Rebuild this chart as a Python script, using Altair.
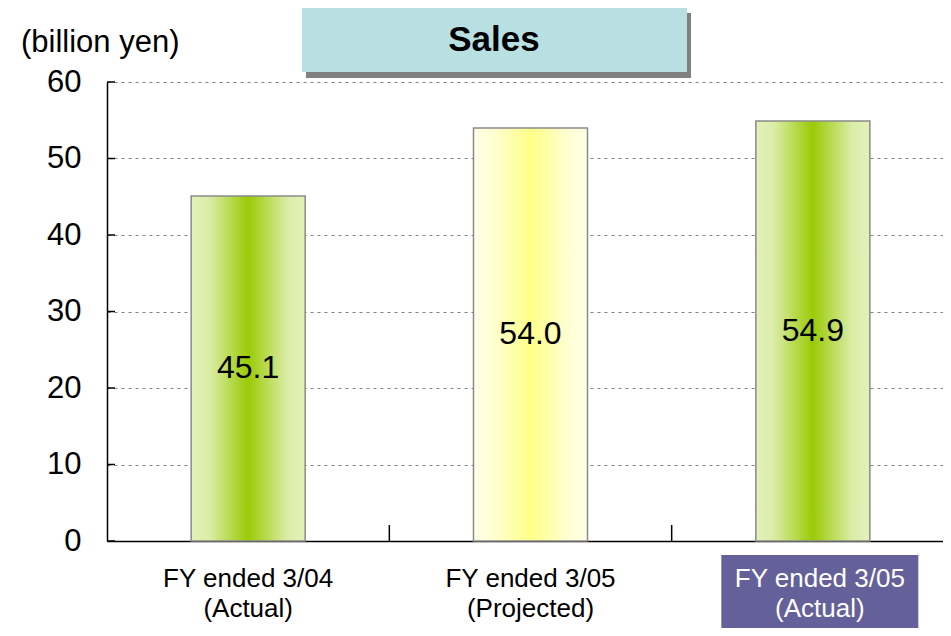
import altair as alt
import pandas as pd

# ---- data ----
categories = ["FY ended 3/04\n(Actual)", "FY ended 3/05\n(Projected)", "FY ended 3/05\n(Actual)"]
sales = [45.1, 54.0, 54.9]
bar_style = ["green", "yellow", "green"]
highlighted = [False, False, True]
y_ticks = [0, 10, 20, 30, 40, 50, 60]
title_text = ["Sales"]
unit_text = ["(billion yen)"]

df = pd.DataFrame({"cat": categories, "sales": sales, "style": bar_style, "hl": highlighted})
df["mid"] = df["sales"] / 2
tick_df = pd.DataFrame({"t": y_ticks})
title_df = pd.DataFrame({"t": title_text})
unit_df = pd.DataFrame({"t": unit_text})

FONT = "Liberation Sans"

xscale = alt.Scale(domain=categories, range=[0, 847], paddingInner=0, paddingOuter=0)
yscale = alt.Scale(domain=[0, 60], nice=False)

xaxis = alt.Axis(labels=False, ticks=False, title=None, domainColor="black",
                 domainWidth=1.5, grid=False)
yaxis = alt.Axis(values=y_ticks, grid=True, gridDash=[3, 4], gridColor="#808080",
                 gridWidth=1.2, ticks=False, tickSize=0, labelFontSize=31, labelFont=FONT,
                 labelColor="black", labelPadding=26, domainColor="black",
                 domainWidth=1.5, title=None)

X = alt.X("cat:N", scale=xscale, axis=xaxis)

green_grad = alt.Gradient(
    gradient="linear", x1=0, x2=1, y1=0, y2=0,
    stops=[
        alt.GradientStop(offset=0, color="#E3F1B8"),
        alt.GradientStop(offset=0.15, color="#DCEDAA"),
        alt.GradientStop(offset=0.5, color="#9ACB05"),
        alt.GradientStop(offset=0.85, color="#DCEDAA"),
        alt.GradientStop(offset=1, color="#E3F1B8"),
    ],
)
yellow_grad = alt.Gradient(
    gradient="linear", x1=0, x2=1, y1=0, y2=0,
    stops=[
        alt.GradientStop(offset=0, color="#FFFFE6"),
        alt.GradientStop(offset=0.15, color="#FFFFD6"),
        alt.GradientStop(offset=0.5, color="#FFFF88"),
        alt.GradientStop(offset=0.85, color="#FFFFD6"),
        alt.GradientStop(offset=1, color="#FFFFE6"),
    ],
)

base = alt.Chart(df)

green_bars = base.transform_filter(alt.datum.style == "green").mark_bar(
    fill=green_grad, stroke="#8a8a8a", strokeWidth=1.5, width=114
).encode(x=X, y=alt.Y("sales:Q", scale=yscale, axis=yaxis))

yellow_bars = base.transform_filter(alt.datum.style == "yellow").mark_bar(
    fill=yellow_grad, stroke="#8a8a8a", strokeWidth=1.5, width=114
).encode(x=X, y=alt.Y("sales:Q", scale=yscale, axis=yaxis))

bar_labels = base.mark_text(fontSize=32, font=FONT, color="black", baseline="middle").encode(
    x=X, y=alt.Y("mid:Q", scale=yscale, axis=yaxis),
    text=alt.Text("sales:Q", format=".1f"),
)

y_tick_rules = alt.Chart(tick_df).mark_rule(color="black", strokeWidth=1.5).encode(
    y=alt.Y("t:Q", scale=yscale, axis=yaxis), x=alt.value(0), x2=alt.value(8)
)

band_ticks = base.transform_filter(alt.datum.cat != categories[0]).mark_rule(
    color="black", strokeWidth=1.5
).encode(
    x=alt.X("cat:N", scale=xscale, axis=xaxis, bandPosition=0),
    y=alt.value(443), y2=alt.value(459),
)

hl_box = base.transform_filter("datum.hl").mark_bar(
    color="#64609A", width=197, xOffset=7
).encode(x=X, y=alt.value(473), y2=alt.value(560))

x_labels = base.transform_filter("!datum.hl").mark_text(
    fontSize=26, font=FONT, color="black", lineBreak="\n", lineHeight=30,
    baseline="alphabetic", align="center"
).encode(x=X, y=alt.value(505), text="cat:N")

x_labels_hl = base.transform_filter("datum.hl").mark_text(
    fontSize=26, font=FONT, color="white", lineBreak="\n", lineHeight=30,
    baseline="alphabetic", align="center", dx=7
).encode(x=X, y=alt.value(505), text="cat:N")

title_shadow = alt.Chart(title_df).mark_rect(color="#808080").encode(
    x=alt.value(199), x2=alt.value(584), y=alt.value(-69), y2=alt.value(-4)
)
title_box = alt.Chart(title_df).mark_rect(color="#B8DFE2").encode(
    x=alt.value(195), x2=alt.value(580), y=alt.value(-75), y2=alt.value(-10)
)
title_label = alt.Chart(title_df).mark_text(
    fontSize=35, font=FONT, fontWeight="bold", color="black", align="center",
    baseline="alphabetic"
).encode(x=alt.value(387), y=alt.value(-31), text="t:N")

unit_label = alt.Chart(unit_df).mark_text(
    fontSize=31, font=FONT, color="black", align="left", baseline="alphabetic"
).encode(x=alt.value(-86), y=alt.value(-30), text="t:N")

chart = alt.layer(
    green_bars, yellow_bars, bar_labels, y_tick_rules, band_ticks,
    hl_box, x_labels, x_labels_hl,
    title_shadow, title_box, title_label, unit_label,
).properties(
    width=836, height=459,
    padding={"left": 99, "top": 74, "right": 0, "bottom": 87},
    autosize=alt.AutoSizeParams(type="none"),
    background="white",
).configure_view(stroke=None)

chart.save("out.html", embed_options={"renderer": "svg", "actions": False})
